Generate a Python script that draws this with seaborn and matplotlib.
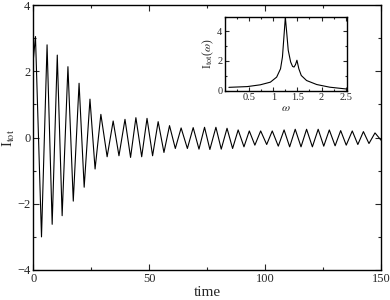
import matplotlib
matplotlib.use("Agg")
import matplotlib.pyplot as plt
from matplotlib.ticker import MultipleLocator
import seaborn as sns

# extrema of the total current
time_pts = [0, 1.0, 3.6, 6.0, 8.2, 10.4, 12.5, 15.0, 17.3, 19.8, 22.0, 24.5, 26.7,
            29.2, 31.9, 34.5, 37.0, 39.6, 42.0, 44.3, 46.8, 49.1, 51.5, 53.9, 56.4,
            58.8, 61.3, 63.8, 66.5, 69.0, 71.5, 73.9, 76.2, 78.8, 81.1, 83.6, 86.0,
            88.4, 90.9, 93.2, 95.6, 98.1, 100.7, 103.1, 105.7, 108.2, 110.6, 113.0,
            115.5, 117.9, 120.4, 122.9, 125.3, 127.7, 130.2, 132.6, 135.0, 137.6,
            140.0, 142.4, 144.8, 147.4, 150]
itot_pts = [2.3, 3.05, -3.0, 2.8, -2.62, 2.49, -2.36, 2.14, -1.92, 1.64, -1.50, 1.16, -0.95,
            0.70, -0.58, 0.50, -0.55, 0.55, -0.60, 0.60, -0.58, 0.58, -0.55, 0.48, -0.45,
            0.36, -0.33, 0.29, -0.33, 0.30, -0.35, 0.31, -0.36, 0.31, -0.35, 0.28, -0.33,
            0.23, -0.28, 0.20, -0.23, 0.20, -0.21, 0.20, -0.26, 0.23, -0.28, 0.25,
            -0.28, 0.25, -0.28, 0.25, -0.26, 0.23, -0.25, 0.21, -0.23, 0.20,
            -0.21, 0.18, -0.18, 0.14, -0.08]

# spectrum (inset)
omega_pts = [0.08, 0.46, 0.73, 0.94, 1.07, 1.15, 1.19, 1.22, 1.25, 1.28, 1.31, 1.36,
             1.40, 1.43, 1.46, 1.49, 1.53, 1.58, 1.69, 1.90, 2.17, 2.51]
spec_pts = [0.22, 0.27, 0.39, 0.57, 0.91, 1.47, 2.27, 3.6, 4.95, 3.85, 2.72, 1.93,
            1.63, 1.59, 1.75, 2.05, 1.47, 1.02, 0.68, 0.41, 0.23, 0.11]

sns.set_style("ticks")
plt.rcParams["font.family"] = ["Liberation Serif", "DejaVu Serif"]
plt.rcParams["mathtext.fontset"] = "stix"


def style_axes(ax, size):
    ax.tick_params(which="both", direction="in", top=True, right=True,
                   labelsize=size, pad=2, width=0.8)
    ax.tick_params(which="major", length=4)
    ax.tick_params(which="minor", length=2)
    for s in ax.spines.values():
        s.set_linewidth(1.0)
        s.set_color("black")


fig = plt.figure(figsize=(3.9, 3.0), dpi=100)
ax = fig.add_axes([0.085, 0.1, 0.892, 0.883])
sns.lineplot(x=time_pts, y=itot_pts, ax=ax, color="black", linewidth=0.8)
ax.set_xlim(0, 150)
ax.set_ylim(-4, 4)
ax.xaxis.set_major_locator(MultipleLocator(50))
ax.xaxis.set_minor_locator(MultipleLocator(25))
ax.yaxis.set_major_locator(MultipleLocator(2))
ax.yaxis.set_minor_locator(MultipleLocator(1))
style_axes(ax, 9)
ax.set_xlabel("time", fontsize=11, labelpad=1)
ax.set_ylabel(r"I$_{\mathrm{tot}}$", fontsize=10.5, labelpad=0)

axin = fig.add_axes([0.577, 0.698, 0.313, 0.247])
sns.lineplot(x=omega_pts, y=spec_pts, ax=axin, color="black", linewidth=0.8)
axin.set_xlim(0.0, 2.53)
axin.set_ylim(0, 5)
axin.set_xticks([0.5, 1, 1.5, 2, 2.5])
axin.set_xticklabels(["0.5", "1", "1.5", "2", "2.5"])
axin.xaxis.set_minor_locator(MultipleLocator(0.25))
axin.yaxis.set_major_locator(MultipleLocator(2))
axin.yaxis.set_minor_locator(MultipleLocator(1))
style_axes(axin, 7.5)
axin.tick_params(which="major", length=3)
axin.tick_params(which="minor", length=1.5)
axin.set_xlabel(r"$\omega$", fontsize=8.5, labelpad=0)
axin.set_ylabel(r"I$_{\mathrm{tot}}$($\omega$)", fontsize=8.5, labelpad=1)

fig.savefig("out.png", dpi=100)
